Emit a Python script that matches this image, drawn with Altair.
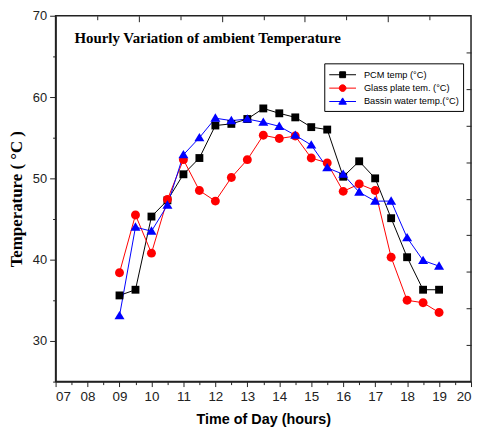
import altair as alt
import pandas as pd

HOURS = [9, 9.5, 10, 10.5, 11, 11.5, 12, 12.5, 13, 13.5, 14, 14.5, 15, 15.5, 16, 16.5, 17, 17.5, 18, 18.5, 19]
PCM = [35.6, 36.3, 45.3, 47.3, 50.5, 52.5, 56.5, 56.7, 57.3, 58.6, 58.0, 57.5, 56.3, 56.0, 50.2, 52.1, 50.0, 45.1, 40.3, 36.3, 36.3]
GLASS = [38.4, 45.5, 40.8, 47.4, 52.3, 48.5, 47.2, 50.1, 52.3, 55.3, 54.9, 55.2, 52.5, 51.9, 48.4, 49.3, 48.5, 40.3, 35.0, 34.7, 33.5]
BASIN = [33.1, 44.0, 43.5, 46.7, 52.9, 55.0, 57.4, 57.1, 57.3, 56.9, 56.4, 55.3, 54.1, 51.3, 50.5, 48.3, 47.2, 47.2, 42.7, 39.9, 39.2]

SERIES = ["PCM temp (°C)", "Glass plate tem. (°C)", "Bassin water temp.(°C)"]
COLORS = ["#000000", "#ff0000", "#0000ff"]
X_TICKS = list(range(7, 21))
Y_TICKS = [30, 40, 50, 60, 70]
TITLE = "Hourly Variation of ambient Temperature"

rows = []
for name, vals in zip(SERIES, [PCM, GLASS, BASIN]):
    for h, v in zip(HOURS, vals):
        rows.append({"hour": h, "temp": v, "series": name})
df = pd.DataFrame(rows)

W, H = 419, 369
XS = alt.Scale(domain=[7, 20], nice=False, zero=False)
YS = alt.Scale(domain=[25, 70], nice=False, zero=False)

SHAPES_PLOT = [
    "M-0.22,-0.22H0.22V0.22H-0.22Z",
    "M0.25,0A0.25,0.25,0,1,1,-0.25,0A0.25,0.25,0,1,1,0.25,0Z",
    "M0,-0.27L0.28,0.2L-0.28,0.2Z",
]
SHAPES_LEGEND = [
    "M-2,0H2M-0.44,-0.44H0.44V0.44H-0.44Z",
    "M-2,0H2M0.5,0A0.5,0.5,0,1,1,-0.5,0A0.5,0.5,0,1,1,0.5,0Z",
    "M-2,0H2M0,-0.54L0.56,0.4L-0.56,0.4Z",
]

base = alt.Chart(df)
axis_common = dict(domainColor="#222", domainWidth=1.5, tickColor="#222", tickWidth=1, grid=False)

lines = base.mark_line(strokeWidth=1).encode(
    x=alt.X("hour:Q", scale=XS, axis=alt.Axis(
        orient="bottom", values=X_TICKS, tickSize=5,
        labelExpr="datum.value < 10 ? '0' + datum.value : '' + datum.value",
        labelFont="Liberation Sans", labelFontSize=13.5, labelColor="#222", labelPadding=3,
        title="Time of Day (hours)", titleFont="Liberation Sans", titleFontWeight="bold",
        titleFontSize=14.5, titleColor="#000", titleX=W / 2, titleY=38,
        titleAlign="center", titleBaseline="middle", **axis_common)),
    y=alt.Y("temp:Q", scale=YS, axis=alt.Axis(
        orient="left", values=Y_TICKS, tickSize=6,
        labelFont="Liberation Sans", labelFontSize=13, labelColor="#222", labelPadding=3,
        title="Temperature ( °C )", titleFont="Liberation Serif", titleFontWeight="bold",
        titleFontSize=17, titleColor="#000", titleX=-39, titleY=H / 2, titleAngle=-90,
        titleAlign="center", titleBaseline="middle", **axis_common)),
    color=alt.Color("series:N", scale=alt.Scale(domain=SERIES, range=COLORS), legend=None),
)

points = base.mark_point(filled=True, size=1300, opacity=1).encode(
    x=alt.X("hour:Q", scale=XS, axis=alt.Axis(
        orient="bottom", values=[h + 0.5 for h in range(7, 20)], tickSize=3,
        labels=False, domain=False, title=None, tickColor="#222", grid=False)),
    y=alt.Y("temp:Q", scale=YS, axis=alt.Axis(
        orient="left", values=[25, 35, 45, 55, 65], tickSize=3,
        labels=False, domain=False, title=None, tickColor="#222", grid=False)),
    color=alt.Color("series:N", scale=alt.Scale(domain=SERIES, range=COLORS), legend=None),
    shape=alt.Shape("series:N", scale=alt.Scale(domain=SERIES, range=SHAPES_PLOT), legend=None),
)

frame_a = base.mark_point(opacity=0).encode(
    x=alt.X("hour:Q", scale=XS, axis=alt.Axis(
        orient="bottom", offset=-H, values=[7 + 1.3 * k for k in (2, 4, 6, 8)], tickSize=6,
        labels=False, domain=False, title=None, tickColor="#222", grid=False)),
    y=alt.Y("temp:Q", scale=YS, axis=alt.Axis(
        orient="left", offset=-W, values=[25 + 4.5 * k for k in range(1, 10)], tickSize=5,
        labels=False, domain=False, title=None, tickColor="#222", grid=False)),
)

frame_b = base.mark_point(opacity=0).encode(
    x=alt.X("hour:Q", scale=XS, axis=alt.Axis(
        orient="bottom", offset=-H, values=[7 + 1.3 * k for k in (1, 3, 5, 7, 9)], tickSize=4,
        labels=False, domain=False, title=None, tickColor="#222", grid=False)),
    y=alt.Y("temp:Q", scale=YS, axis=None),
)

legend_layer = base.transform_filter("false").mark_point(filled=True, size=182, strokeWidth=1).encode(
    fill=alt.Fill("series:N", scale=alt.Scale(domain=SERIES, range=COLORS)),
    stroke=alt.Stroke("series:N", scale=alt.Scale(domain=SERIES, range=COLORS)),
    shape=alt.Shape("series:N", scale=alt.Scale(domain=SERIES, range=SHAPES_LEGEND),
                    legend=alt.Legend(
                        orient="none", legendX=271, legendY=48, title=None,
                        strokeColor="#000", fillColor="#fff", padding=4,
                        labelFont="Liberation Sans", labelFontSize=9.3, labelColor="#000",
                        labelOffset=14, symbolOffset=7, symbolSize=182, symbolStrokeWidth=1,
                        symbolOpacity=1, rowPadding=0.5)),
)

title_layer = alt.Chart(pd.DataFrame({"t": [TITLE]})).mark_text(
    font="Liberation Serif", fontWeight="bold", fontSize=15, align="left",
    baseline="middle", color="#000",
).encode(x=alt.value(19), y=alt.value(22), text="t:N")

chart = alt.layer(lines, points, frame_a, frame_b, legend_layer, title_layer).resolve_scale(
    x="independent", y="independent", color="independent", shape="independent",
    fill="independent", stroke="independent",
).properties(
    width=W, height=H,
    padding={"left": 48, "top": 6, "right": 3, "bottom": 48},
    autosize=alt.AutoSizeParams(type="none"),
).configure_view(stroke="#222", strokeWidth=1.5)

chart.save("out.html", embed_options={"renderer": "svg", "actions": False})
